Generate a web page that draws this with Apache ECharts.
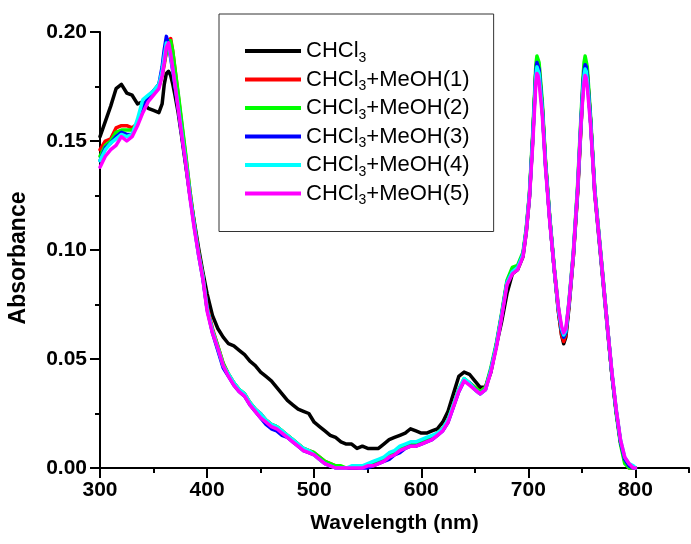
<!DOCTYPE html>
<html>
<head>
<meta charset="utf-8">
<script src="https://cdn.jsdelivr.net/npm/echarts@6/dist/echarts.min.js"></script>
<style>
html,body{margin:0;padding:0;background:#fff;}
#chart{width:691px;height:544px;}
</style>
</head>
<body>
<div id="chart"></div>
<script>
// Wavelength grid (nm)
const wavelength = [
  300,305,310,315,320,325,330,335,340,345,
  350,355,358,360,362,364,366,368,370,373,
  376,380,384,388,392,396,400,405,410,415,
  420,425,430,435,440,445,450,455,460,465,
  470,475,480,485,490,495,500,505,510,515,
  520,525,530,535,540,545,550,555,560,565,
  570,575,580,585,590,595,600,605,610,615,
  620,625,630,635,640,645,650,655,660,665,
  670,675,680,685,690,695,698,701,704,706,
  707,708,709,710,713,716,720,724,728,731,
  733,735,738,742,746,749,751,752,753,754,
  755,758,762,766,770,774,778,782,786,790,
  794,798,800
];

const seriesNames = ['CHCl3','CHCl3+MeOH(1)','CHCl3+MeOH(2)','CHCl3+MeOH(3)','CHCl3+MeOH(4)','CHCl3+MeOH(5)'];
const seriesColors = ['#000000','#ff0000','#00ff00','#0000ff','#00ffff','#ff00ff'];

const absCHCl3 = [
  0.152,0.159,0.166,0.174,0.176,0.172,0.171,0.167,0.168,0.165,
  0.164,0.163,0.167,0.176,0.181,0.182,0.180,0.176,0.171,0.163,
  0.153,0.139,0.125,0.113,0.101,0.090,0.080,0.070,0.064,0.060,
  0.057,0.056,0.054,0.052,0.049,0.047,0.044,0.042,0.040,0.037,
  0.034,0.031,0.029,0.027,0.026,0.025,0.021,0.019,0.017,0.015,
  0.014,0.012,0.011,0.011,0.009,0.010,0.009,0.009,0.009,0.011,
  0.013,0.014,0.015,0.016,0.018,0.017,0.016,0.016,0.017,0.018,
  0.021,0.026,0.034,0.042,0.044,0.043,0.040,0.037,0.037,0.044,
  0.056,0.067,0.080,0.089,0.091,0.097,0.108,0.124,0.150,0.172,
  0.182,0.186,0.186,0.182,0.165,0.140,0.114,0.092,0.072,0.061,
  0.057,0.060,0.074,0.097,0.126,0.155,0.174,0.182,0.186,0.186,
  0.181,0.160,0.126,0.105,0.084,0.063,0.043,0.026,0.012,0.004,
  0.001,0.000,0.000
];
const absMeOH1 = [
  0.146,0.150,0.151,0.156,0.157,0.157,0.156,0.158,0.164,0.170,
  0.172,0.175,0.180,0.185,0.191,0.196,0.197,0.191,0.183,0.171,
  0.159,0.143,0.127,0.112,0.099,0.088,0.074,0.064,0.056,0.048,
  0.043,0.039,0.036,0.034,0.030,0.027,0.025,0.022,0.020,0.019,
  0.017,0.015,0.013,0.011,0.009,0.008,0.007,0.005,0.003,0.002,
  0.001,0.000,0.000,0.000,0.000,0.001,0.001,0.002,0.003,0.004,
  0.005,0.007,0.008,0.010,0.011,0.011,0.012,0.013,0.014,0.016,
  0.018,0.022,0.029,0.036,0.040,0.039,0.037,0.035,0.037,0.045,
  0.056,0.070,0.085,0.090,0.092,0.098,0.109,0.125,0.151,0.171,
  0.182,0.187,0.187,0.184,0.166,0.140,0.114,0.092,0.072,0.061,
  0.058,0.061,0.075,0.097,0.127,0.156,0.175,0.182,0.186,0.185,
  0.181,0.160,0.127,0.106,0.085,0.064,0.043,0.026,0.012,0.003,
  0.000,0.000,0.000
];
const absMeOH2 = [
  0.143,0.148,0.150,0.154,0.155,0.155,0.155,0.158,0.165,0.170,
  0.173,0.176,0.181,0.186,0.191,0.196,0.196,0.191,0.183,0.172,
  0.160,0.144,0.127,0.112,0.099,0.088,0.073,0.063,0.056,0.048,
  0.043,0.039,0.036,0.034,0.030,0.027,0.024,0.022,0.020,0.019,
  0.017,0.015,0.013,0.011,0.009,0.008,0.007,0.005,0.003,0.002,
  0.001,0.001,0.000,0.000,0.001,0.001,0.001,0.002,0.003,0.004,
  0.006,0.007,0.009,0.010,0.011,0.011,0.012,0.013,0.014,0.016,
  0.018,0.022,0.029,0.036,0.041,0.039,0.037,0.035,0.037,0.046,
  0.057,0.071,0.086,0.092,0.093,0.099,0.110,0.126,0.153,0.174,
  0.185,0.189,0.189,0.186,0.168,0.141,0.115,0.093,0.074,0.063,
  0.060,0.062,0.077,0.099,0.130,0.160,0.179,0.186,0.189,0.189,
  0.184,0.162,0.128,0.107,0.086,0.064,0.043,0.025,0.011,0.002,
  0.000,0.000,0.000
];
const absMeOH3 = [
  0.141,0.147,0.149,0.152,0.154,0.153,0.153,0.158,0.165,0.170,
  0.173,0.176,0.184,0.192,0.198,0.194,0.188,0.182,0.175,0.165,
  0.154,0.140,0.125,0.111,0.098,0.087,0.073,0.062,0.054,0.046,
  0.042,0.038,0.035,0.033,0.029,0.026,0.023,0.020,0.018,0.017,
  0.015,0.014,0.012,0.010,0.008,0.007,0.006,0.004,0.002,0.001,
  0.000,0.000,0.000,0.000,0.000,0.000,0.000,0.001,0.002,0.003,
  0.004,0.006,0.007,0.009,0.010,0.010,0.011,0.012,0.013,0.015,
  0.017,0.021,0.028,0.035,0.040,0.039,0.036,0.034,0.036,0.045,
  0.056,0.070,0.085,0.090,0.092,0.098,0.109,0.125,0.151,0.171,
  0.182,0.186,0.186,0.183,0.165,0.139,0.114,0.092,0.073,0.063,
  0.060,0.062,0.076,0.098,0.128,0.158,0.176,0.182,0.185,0.184,
  0.180,0.160,0.127,0.106,0.085,0.064,0.043,0.026,0.012,0.004,
  0.001,0.000,0.000
];
const absMeOH4 = [
  0.141,0.146,0.149,0.151,0.153,0.152,0.153,0.160,0.169,0.171,
  0.173,0.176,0.182,0.189,0.195,0.194,0.189,0.183,0.176,0.166,
  0.155,0.141,0.125,0.111,0.098,0.088,0.073,0.063,0.055,0.047,
  0.043,0.039,0.036,0.034,0.030,0.027,0.025,0.022,0.020,0.019,
  0.017,0.015,0.013,0.011,0.009,0.008,0.006,0.004,0.002,0.001,
  0.000,0.000,0.000,0.001,0.001,0.001,0.002,0.003,0.004,0.005,
  0.007,0.008,0.010,0.011,0.012,0.012,0.013,0.014,0.015,0.016,
  0.018,0.022,0.029,0.036,0.041,0.039,0.036,0.034,0.036,0.045,
  0.056,0.070,0.085,0.090,0.092,0.098,0.109,0.125,0.150,0.170,
  0.180,0.184,0.184,0.181,0.164,0.139,0.114,0.092,0.073,0.064,
  0.061,0.063,0.076,0.098,0.128,0.157,0.174,0.180,0.183,0.182,
  0.178,0.159,0.127,0.106,0.085,0.064,0.044,0.027,0.013,0.005,
  0.002,0.001,0.000
];
const absMeOH5 = [
  0.138,0.143,0.146,0.148,0.152,0.150,0.152,0.157,0.163,0.168,
  0.171,0.174,0.180,0.186,0.193,0.195,0.190,0.183,0.176,0.165,
  0.154,0.140,0.124,0.110,0.098,0.087,0.072,0.062,0.055,0.047,
  0.042,0.038,0.035,0.033,0.029,0.026,0.023,0.021,0.019,0.018,
  0.016,0.014,0.012,0.010,0.008,0.007,0.006,0.004,0.002,0.001,
  0.000,0.000,0.000,0.000,0.000,0.000,0.001,0.001,0.002,0.003,
  0.005,0.006,0.008,0.009,0.010,0.010,0.011,0.012,0.013,0.015,
  0.017,0.021,0.028,0.035,0.040,0.038,0.036,0.034,0.036,0.044,
  0.055,0.069,0.084,0.089,0.091,0.097,0.108,0.124,0.148,0.167,
  0.177,0.181,0.180,0.177,0.162,0.138,0.113,0.092,0.074,0.065,
  0.062,0.064,0.076,0.098,0.128,0.157,0.171,0.177,0.180,0.179,
  0.175,0.158,0.126,0.106,0.085,0.064,0.044,0.027,0.013,0.005,
  0.002,0.000,0.000
];

const xMajorTicks = [300,400,500,600,700,800];
const yMajorTicks = [0,0.05,0.10,0.15,0.20];

const allAbs = [absCHCl3, absMeOH1, absMeOH2, absMeOH3, absMeOH4, absMeOH5];

const FONT = 'Liberation Sans, Arial, sans-serif';
const chart = echarts.init(document.getElementById('chart'), null, {renderer: 'canvas'});

const series = seriesNames.map((name, i) => ({
  name: name,
  type: 'line',
  xAxisIndex: 0,
  yAxisIndex: 0,
  data: wavelength.map((w, j) => [w, allAbs[i][j]]),
  showSymbol: false,
  symbol: 'none',
  smooth: false,
  clip: false,
  color: seriesColors[i],
  lineStyle: {color: seriesColors[i], width: 3.5, join: 'round', cap: 'round'},
  z: 2 + i
}));

chart.setOption({
  animation: false,
  backgroundColor: '#ffffff',
  grid: {left: 100, right: 2, top: 32, bottom: 76, containLabel: false, outerBoundsMode: 'none'},
  legend: {
    left: 219,
    top: 14,
    orient: 'vertical',
    padding: [26, 24, 24, 26],
    itemGap: 3.5,
    itemWidth: 56,
    itemHeight: 4,
    icon: 'rect',
    borderColor: '#333333',
    borderWidth: 1,
    backgroundColor: '#ffffff',
    data: seriesNames,
    formatter: function (name) {
      const rest = name.replace('CHCl3', '');
      return '{a|CHCl}{s|3}' + (rest ? '{a|' + rest + '}' : '');
    },
    textStyle: {
      fontFamily: FONT,
      fontSize: 22,
      color: '#000',
      rich: {
        a: {fontFamily: FONT, fontSize: 22, color: '#000', lineHeight: 28, verticalAlign: 'middle'},
        s: {fontFamily: FONT, fontSize: 14, color: '#000', lineHeight: 10, verticalAlign: 'bottom'}
      }
    }
  },
  xAxis: [
    {
      type: 'value', min: 300, max: 850, interval: 50, position: 'bottom',
      name: 'Wavelength (nm)', nameLocation: 'middle', nameGap: 45,
      nameTextStyle: {fontFamily: FONT, fontSize: 21, fontWeight: 'bold', color: '#000'},
      axisLine: {show: true, onZero: false, lineStyle: {color: '#000', width: 2}},
      axisTick: {show: true, inside: false, length: 5, lineStyle: {color: '#000', width: 2}},
      axisLabel: {
        show: true, margin: 12, fontFamily: FONT, fontSize: 21, fontWeight: 'bold', color: '#000',
        showMaxLabel: true, showMinLabel: true,
        formatter: function (v) { return xMajorTicks.indexOf(Math.round(v)) >= 0 ? String(Math.round(v)) : ''; }
      },
      splitLine: {show: false}
    },
    {
      type: 'value', min: 300, max: 850, interval: 100, position: 'bottom',
      axisLine: {show: false, onZero: false},
      axisTick: {show: true, inside: false, length: 10, customValues: xMajorTicks, lineStyle: {color: '#000', width: 2}},
      axisLabel: {show: false},
      splitLine: {show: false}
    }
  ],
  yAxis: [
    {
      type: 'value', min: 0, max: 0.2, interval: 0.025, position: 'left',
      name: 'Absorbance', nameLocation: 'middle', nameGap: 70, nameRotate: 90,
      nameTextStyle: {fontFamily: FONT, fontSize: 23, fontWeight: 'bold', color: '#000', padding: [0, 16, 0, 0]},
      axisLine: {show: true, onZero: false, lineStyle: {color: '#000', width: 2}},
      axisTick: {show: true, inside: false, length: 5, lineStyle: {color: '#000', width: 2}},
      axisLabel: {
        show: true, margin: 13, fontFamily: FONT, fontSize: 21, fontWeight: 'bold', color: '#000',
        formatter: function (v) {
          const k = v * 20;
          return Math.abs(k - Math.round(k)) < 1e-6 ? v.toFixed(2) : '';
        }
      },
      splitLine: {show: false}
    },
    {
      type: 'value', min: 0, max: 0.2, interval: 0.05, position: 'left',
      axisLine: {show: false, onZero: false},
      axisTick: {show: true, inside: false, length: 10, customValues: yMajorTicks, lineStyle: {color: '#000', width: 2}},
      axisLabel: {show: false},
      splitLine: {show: false}
    }
  ],
  series: series
});
</script>
</body>
</html>
